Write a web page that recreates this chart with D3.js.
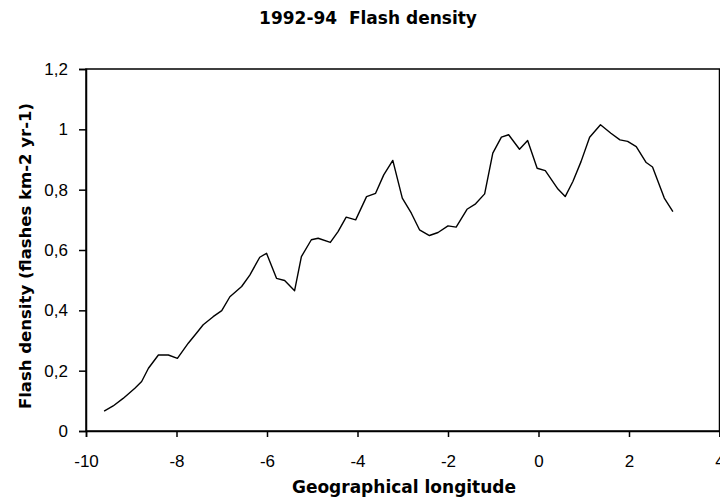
<!DOCTYPE html>
<html>
<head>
<meta charset="utf-8">
<script src="https://cdn.jsdelivr.net/npm/d3@7"></script>
<style>
  html, body { margin: 0; padding: 0; background: #fff; }
  svg { display: block; font-family: "Liberation Sans", Arial, sans-serif; }
</style>
</head>
<body>
<div id="chart"></div>
<script>
// longitude (deg) and flash density (flashes km-2 yr-1)
const longitude = [
  -9.60, -9.40, -9.18, -8.92, -8.77, -8.62, -8.40, -8.18, -7.98, -7.74,
  -7.56, -7.41, -7.19, -7.00, -6.82, -6.56, -6.38, -6.16, -6.01, -5.79,
  -5.61, -5.39, -5.24, -5.02, -4.87, -4.60, -4.43, -4.25, -4.04, -3.80,
  -3.60, -3.42, -3.22, -3.01, -2.81, -2.63, -2.41, -2.22, -2.00, -1.82,
  -1.58, -1.39, -1.19, -1.01, -0.82, -0.66, -0.42, -0.24, -0.03, 0.15,
  0.43, 0.59, 0.76, 0.94, 1.13, 1.37, 1.60, 1.80, 1.97, 2.16,
  2.38, 2.52, 2.78, 2.97
];
const density = [
  0.066, 0.083, 0.108, 0.142, 0.164, 0.208, 0.252, 0.252, 0.241, 0.291,
  0.324, 0.352, 0.379, 0.399, 0.445, 0.479, 0.517, 0.576, 0.589, 0.506,
  0.499, 0.465, 0.578, 0.634, 0.639, 0.625, 0.661, 0.709, 0.700, 0.777,
  0.788, 0.849, 0.897, 0.772, 0.722, 0.667, 0.648, 0.658, 0.680, 0.676,
  0.735, 0.753, 0.786, 0.921, 0.974, 0.982, 0.934, 0.963, 0.871, 0.863,
  0.802, 0.777, 0.827, 0.893, 0.974, 1.015, 0.987, 0.965, 0.960, 0.943,
  0.890, 0.875, 0.772, 0.727
];
const xTicks = [-10, -8, -6, -4, -2, 0, 2, 4];
const yTicks = [0, 0.2, 0.4, 0.6, 0.8, 1, 1.2];

const width = 720, height = 501;
const margin = { top: 69, right: 0.5, bottom: 70, left: 86 };
const boldFont = "'DejaVu Sans', Verdana, sans-serif";

const svg = d3.select("#chart").append("svg")
  .attr("width", width)
  .attr("height", height);

const x = d3.scaleLinear().domain([-10, 4]).range([margin.left, width - margin.right]);
const y = d3.scaleLinear().domain([0, 1.2]).range([height - margin.bottom, margin.top]);

// comma decimals like the original
const fmtY = (d) => String(+d.toFixed(1)).replace(".", ",");

// frame
svg.append("rect")
  .attr("x", x(-10))
  .attr("y", y(1.2))
  .attr("width", x(4) - x(-10))
  .attr("height", y(0) - y(1.2))
  .attr("fill", "none")
  .attr("stroke", "#000")
  .attr("stroke-width", 1.5);

const xAxis = svg.append("g")
  .attr("transform", `translate(0,${y(0)})`)
  .call(d3.axisBottom(x).tickValues(xTicks).tickSize(6).tickPadding(19).tickFormat((d) => String(d)));

const yAxis = svg.append("g")
  .attr("transform", `translate(${x(-10)},0)`)
  .call(d3.axisLeft(y).tickValues(yTicks).tickSize(7).tickPadding(11).tickFormat(fmtY));

[xAxis, yAxis].forEach((a) => {
  a.select(".domain").attr("stroke", "#000").attr("stroke-width", 1.5);
  a.selectAll(".tick line").attr("stroke", "#000").attr("stroke-width", 1.5);
  a.selectAll(".tick text")
    .attr("fill", "#000")
    .style("font-size", "17px")
    .style("font-family", "'Liberation Sans', Arial, sans-serif");
});
xAxis.selectAll(".tick text").attr("dy", "0.62em");

// the series
const pts = longitude.map((lon, i) => ({ lon, v: density[i] }));
const line = d3.line().x((d) => x(d.lon)).y((d) => y(d.v));

svg.append("path")
  .datum(pts)
  .attr("d", line)
  .attr("fill", "none")
  .attr("stroke", "#000")
  .attr("stroke-width", 1.4)
  .attr("stroke-linejoin", "round");

// titles
svg.append("text")
  .attr("x", 368)
  .attr("y", 24)
  .attr("text-anchor", "middle")
  .style("white-space", "pre")
  .style("font-family", boldFont)
  .style("font-weight", "bold")
  .style("font-size", "17px")
  .text("1992-94  Flash density");

svg.append("text")
  .attr("x", 404)
  .attr("y", 493)
  .attr("text-anchor", "middle")
  .style("font-family", boldFont)
  .style("font-weight", "bold")
  .style("font-size", "17px")
  .text("Geographical longitude");

svg.append("text")
  .attr("transform", "translate(31,256) rotate(-90)")
  .attr("text-anchor", "middle")
  .style("font-family", boldFont)
  .style("font-weight", "bold")
  .style("font-size", "16.5px")
  .text("Flash density (flashes km-2 yr-1)");
</script>
</body>
</html>
